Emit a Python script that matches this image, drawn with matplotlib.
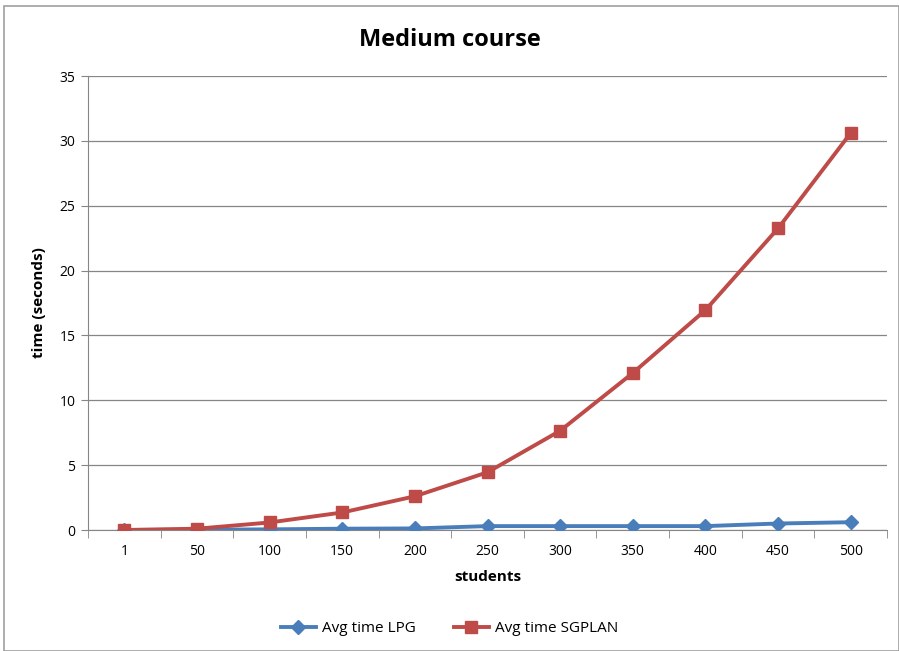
import matplotlib
matplotlib.use("Agg")
import matplotlib.pyplot as plt
from matplotlib.patches import Rectangle
import numpy as np

categories = ["1", "50", "100", "150", "200", "250", "300", "350", "400", "450", "500"]
lpg = [0.0, 0.02, 0.05, 0.1, 0.12, 0.3, 0.3, 0.3, 0.3, 0.5, 0.6]
sgplan = [0.0, 0.1, 0.58, 1.35, 2.6, 4.45, 7.65, 12.1, 16.95, 23.25, 30.6]
yticks = [0, 5, 10, 15, 20, 25, 30, 35]

plt.rcParams['font.family'] = ['Open Sans', 'DejaVu Sans']

fig = plt.figure(figsize=(8.99, 6.51), dpi=100)
fig.patches.append(Rectangle((4/899, 0), 1 - 4/899, 1 - 6/651, transform=fig.transFigure,
                             fill=False, edgecolor='#a0a0a0', linewidth=1.2))

ax = fig.add_axes([88/899, 1 - 530/651, (887 - 88)/899, (530 - 76)/651])
x = np.arange(len(categories))

ax.plot(x, lpg, color='#4a7ebb', linewidth=2.8, marker='D', markersize=7,
        markerfacecolor='#4a7ebb', markeredgecolor='#4a7ebb', label='Avg time LPG', zorder=3)
ax.plot(x, sgplan, color='#be4b48', linewidth=2.8, marker='s', markersize=8,
        markerfacecolor='#be4b48', markeredgecolor='#be4b48', label='Avg time SGPLAN', zorder=4)

ax.set_xlim(-0.5, len(categories) - 0.5)
ax.set_ylim(0, 35)
ax.set_yticks(yticks)
ax.set_yticklabels([str(v) for v in yticks], fontsize=10)
ax.set_xticks(x)
ax.set_xticklabels(categories, fontsize=10)
ax.tick_params(axis='x', which='major', length=0, pad=10)
ax.set_xticks(np.arange(-0.5, len(categories), 1.0), minor=True)
ax.tick_params(axis='x', which='minor', length=6, color='#868686', direction='out')
ax.tick_params(axis='y', length=5, color='#868686', direction='out', pad=4)

ax.grid(axis='y', color='#868686', linewidth=0.9)
ax.set_axisbelow(True)
for s in ['top', 'right']:
    ax.spines[s].set_visible(False)
for s in ['left', 'bottom']:
    ax.spines[s].set_color('#868686')

ax.set_xlabel('students', fontsize=11, fontweight='bold', labelpad=8)
ax.set_ylabel('time (seconds)', fontsize=11, fontweight='bold', labelpad=10)
fig.text(0.5, 1 - 40/651, 'Medium course', ha='center', va='center', fontsize=17, fontweight='bold')

fig.legend(loc='center', bbox_to_anchor=(0.5, 1 - 629/651), ncol=2, frameon=False,
           fontsize=11, handlelength=2.3, handletextpad=0.4, columnspacing=2.5)

fig.savefig('out.png', dpi=100)
